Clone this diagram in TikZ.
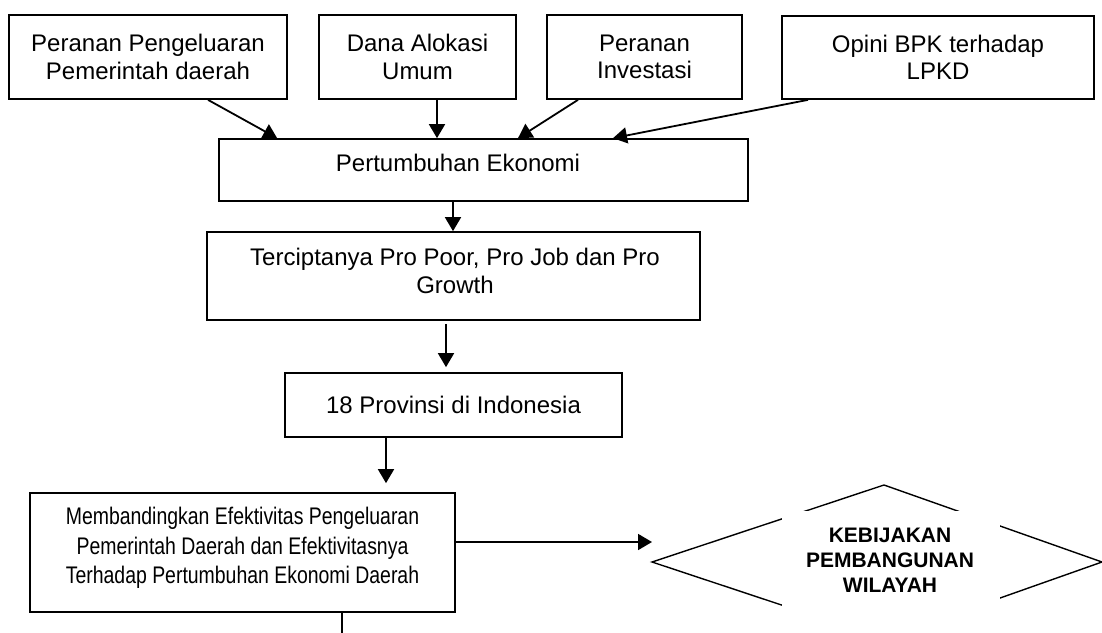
\documentclass[tikz,border=0pt]{standalone}
\usepackage{fontspec}
\setmainfont{Liberation Sans}
\newfontfamily\narrowfont[FakeStretch=0.81]{Liberation Sans}
\usetikzlibrary{arrows.meta}
\begin{document}
\begin{tikzpicture}[x=1pt,y=-1pt,
  box/.style={draw,line width=1.7pt,inner sep=0pt,align=center,font=\fontsize{24}{27.5}\selectfont},
  txt/.style={inner sep=0pt,align=center,font=\fontsize{24}{27.5}\selectfont},
  ntxt/.style={inner sep=0pt,align=center,font=\fontsize{24}{29.5}\narrowfont},
  arr/.style={line width=1.8pt,-{Triangle[length=14pt,width=16pt]}},
  plain/.style={line width=1.8pt},
  dia/.style={line width=1.4pt,line join=miter},
  blank/.style={fill=white,inner sep=0pt,anchor=north west},
  bold/.style={inner sep=0pt,align=center,font=\fontsize{21}{25}\selectfont\bfseries}]
\useasboundingbox (0,0) rectangle (1102,632);

% top boxes
\node[box,minimum width=278pt,minimum height=84pt] (b1) at (148,57) {Peranan Pengeluaran\\Pemerintah daerah};
\node[box,minimum width=197pt,minimum height=84pt] (b2) at (417.5,57) {Dana Alokasi\\Umum};
\node[box,minimum width=195pt,minimum height=84pt] (b3) at (644.5,57) {Peranan\\Investasi};
\node[box,minimum width=312pt,minimum height=83pt] (b4) at (938,57.5) {Opini BPK terhadap\\LPKD};

% Pertumbuhan Ekonomi
\node[box,minimum width=529pt,minimum height=62pt] (pe) at (483.5,170) {};
\node[txt] (pet) at (458,163) {Pertumbuhan Ekonomi};

% Terciptanya
\node[box,minimum width=493pt,minimum height=88pt] (tc) at (453.5,276) {};
\node[txt] (tct) at (455,271) {Terciptanya Pro Poor, Pro Job dan Pro\\Growth};

% 18 Provinsi
\node[box,minimum width=337pt,minimum height=64pt] (pv) at (453.5,405) {18 Provinsi di Indonesia};

% Membandingkan
\node[box,minimum width=425pt,minimum height=119pt] (mb) at (242.5,552.5) {};
\node[ntxt] (mbt) at (242.5,548) {Membandingkan Efektivitas Pengeluaran\\Pemerintah Daerah dan Efektivitasnya\\Terhadap Pertumbuhan Ekonomi Daerah};

% diamond
\coordinate (dl) at (652,562);
\coordinate (dt) at (884,485);
\coordinate (dr) at (1102,562);
\coordinate (db) at (884,639);
\draw[dia] (dl) -- (dt) -- (dr) -- (db) -- cycle;
\node[blank,minimum width=218pt,minimum height=130pt] (kbox) at (782,511) {};
\node[bold] (kb) at (890,560) {KEBIJAKAN\\PEMBANGUNAN\\WILAYAH};

% connectors
\draw[arr] ([xshift=60pt]b1.south) -- ([xshift=59pt]pe.north west);
\draw[arr] ([xshift=19.5pt]b2.south) -- ([xshift=19.5pt]b2.south |- pe.north);
\draw[arr] ([xshift=-66.5pt]b3.south) -- ([xshift=34.5pt]pe.north);
\draw[arr] ([xshift=-130pt]b4.south) -- ([xshift=129.5pt]pe.north);
\draw[arr] ([xshift=-30.5pt]pe.south) -- ([xshift=-30.5pt]pe.south |- tc.north);
\draw[arr,shorten <=3pt,shorten >=5pt] ([xshift=-7.5pt]tc.south) -- ([xshift=-7.5pt]tc.south |- pv.north);
\draw[arr,shorten >=9pt] ([xshift=-67.5pt]pv.south) -- ([xshift=-67.5pt]pv.south |- mb.north);
\coordinate (mbout) at ([yshift=10.5pt]mb.east);
\draw[arr] (mbout) -- (mbout -| dl);
\coordinate (stub) at ([xshift=99.5pt]mb.south |- 0,640);
\draw[plain] ([xshift=99.5pt]mb.south) -- (stub);
\end{tikzpicture}
\end{document}
